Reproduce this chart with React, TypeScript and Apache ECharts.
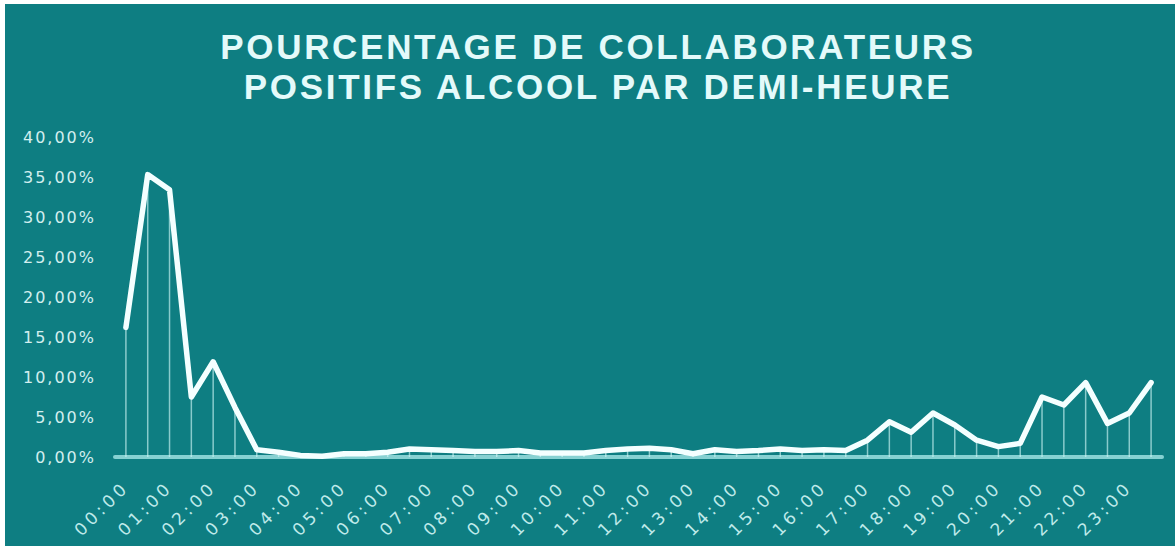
import React, { useEffect, useRef } from 'react';
import * as echarts from 'echarts';

const titleLines = ['POURCENTAGE DE COLLABORATEURS', 'POSITIFS ALCOOL PAR DEMI-HEURE'];

const categories = [
  '00:00', '00:30', '01:00', '01:30', '02:00', '02:30', '03:00', '03:30',
  '04:00', '04:30', '05:00', '05:30', '06:00', '06:30', '07:00', '07:30',
  '08:00', '08:30', '09:00', '09:30', '10:00', '10:30', '11:00', '11:30',
  '12:00', '12:30', '13:00', '13:30', '14:00', '14:30', '15:00', '15:30',
  '16:00', '16:30', '17:00', '17:30', '18:00', '18:30', '19:00', '19:30',
  '20:00', '20:30', '21:00', '21:30', '22:00', '22:30', '23:00', '23:30',
];

const percentPositive = [
  16.2, 35.3, 33.4, 7.5, 11.9, 6.2, 0.9, 0.6,
  0.2, 0.1, 0.4, 0.4, 0.6, 1.0, 0.9, 0.8,
  0.7, 0.7, 0.8, 0.5, 0.5, 0.5, 0.8, 1.0,
  1.1, 0.9, 0.4, 0.9, 0.7, 0.8, 1.0, 0.8,
  0.9, 0.8, 2.1, 4.4, 3.1, 5.5, 4.0, 2.1,
  1.3, 1.7, 7.5, 6.5, 9.3, 4.2, 5.5, 9.3,
];

const yMin = 0;
const yMax = 40;
const yStep = 5;

const BG = '#0e7e82';

export default function App() {
  const ref = useRef<HTMLDivElement>(null);

  useEffect(() => {
    document.body.style.margin = '0';
    if (!ref.current) return;
    const chart = echarts.init(ref.current, undefined, { renderer: 'svg' });
    chart.setOption({
      animation: false,
      backgroundColor: BG,
      graphic: [
        {
          type: 'text',
          x: 593,
          y: 22,
          z: 10,
          style: {
            text: titleLines.join('\n'),
            fill: '#e4fafa',
            fontFamily: 'Liberation Sans',
            fontWeight: 'bold',
            fontSize: 35,
            lineHeight: 40,
            align: 'center',
            verticalAlign: 'top',
          },
        },
      ],
      grid: { left: 110, right: 13, top: 133, bottom: 89 },
      xAxis: {
        type: 'category',
        data: categories,
        boundaryGap: true,
        axisLine: { lineStyle: { color: '#86d1d2', width: 4 } },
        axisTick: { show: false },
        splitLine: { show: false },
        axisLabel: {
          interval: 1,
          rotate: 45,
          margin: 27,
          color: '#bfeaea',
          fontFamily: 'DejaVu Sans',
          fontSize: 17,
        },
      },
      yAxis: {
        type: 'value',
        min: yMin,
        max: yMax,
        interval: yStep,
        axisLine: { show: false },
        axisTick: { show: false },
        splitLine: { show: false },
        axisLabel: {
          margin: 19,
          color: '#d3efef',
          fontFamily: 'DejaVu Sans',
          fontSize: 16,
          formatter: (v: number) => v.toFixed(2).replace('.', ',') + '%',
        },
      },
      series: [
        {
          type: 'bar',
          data: percentPositive,
          barWidth: 1.5,
          silent: true,
          itemStyle: { color: 'rgba(205,245,245,0.65)' },
          z: 1,
        },
        {
          type: 'line',
          data: percentPositive,
          symbol: 'none',
          lineStyle: { color: '#f4ffff', width: 5.5, join: 'round', cap: 'round' },
          z: 3,
        },
      ],
    });
    return () => chart.dispose();
  }, []);

  return (
    <div style={{ width: 1175, height: 548, background: '#ffffff', position: 'relative' }} id="chartbox">
      <style>{`
        #chartbox svg text[style*="35px"] { letter-spacing: 2.7px; }
        #chartbox svg text[style*="17px"] { letter-spacing: 4px; }
        #chartbox svg text[style*="16px"] { letter-spacing: 2px; }
      `}</style>
      <div ref={ref} style={{ position: 'absolute', left: 5, top: 4, width: 1170, height: 542 }} />
    </div>
  );
}
